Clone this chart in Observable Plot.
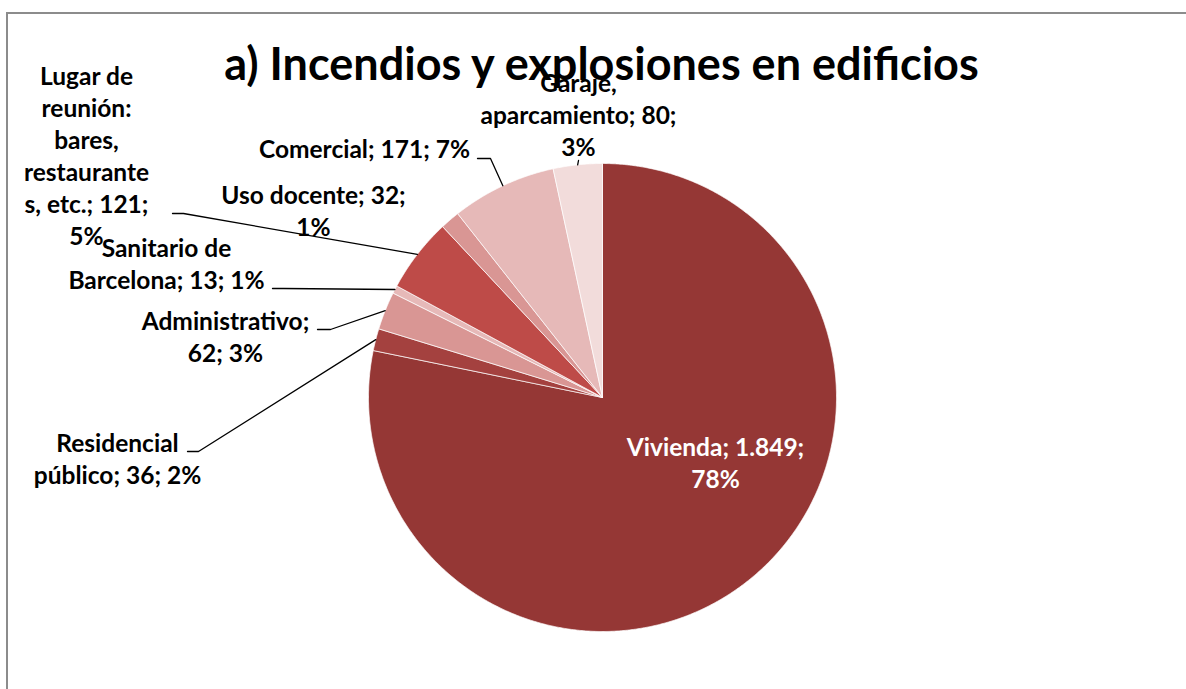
<!DOCTYPE html>
<html>
<head>
<meta charset="utf-8">
<script src="https://cdn.jsdelivr.net/npm/d3@7"></script>
<script src="https://cdn.jsdelivr.net/npm/@observablehq/plot@0.6"></script>
<style>
  body { margin: 0; background: #fff; }
  #wrap { position: relative; width: 1186px; height: 689px; overflow: hidden; }
  #frame { position: absolute; left: 6px; top: 12px; width: 1200px; height: 720px; border: 2px solid #8c8c8c; box-sizing: border-box; }
  #chart { position: absolute; left: 0; top: 0; }
</style>
</head>
<body>
<div id="wrap"><div id="frame"></div><div id="chart"></div></div>
<script>
// ---- data ----
const categories = ["Vivienda", "Residencial público", "Administrativo", "Sanitario de Barcelona",
  "Lugar de reunión: bares, restaurantes, etc.", "Uso docente", "Comercial", "Garaje, aparcamiento"];
const values = [1849, 36, 62, 13, 121, 32, 171, 80];
const labelText = [
  "Vivienda; 1.849;\n78%",
  "Residencial\npúblico; 36; 2%",
  "Administrativo;\n62; 3%",
  "Sanitario de\nBarcelona; 13; 1%",
  "Lugar de\nreunión:\nbares,\nrestaurante\ns, etc.; 121;\n5%",
  "Uso docente; 32;\n1%",
  "Comercial; 171; 7%",
  "Garaje,\naparcamiento; 80;\n3%"
];
const colors = ["#953735", "#a4413f", "#d99694", "#e6b9b8", "#be4b48", "#d99694", "#e6b9b8", "#f2dcdb"];
const titleText = "a) Incendios y explosiones en edificios";

// ---- layout (pixels) ----
const W = 1186, H = 689, cx = 602, cy = 397, r = 234;
const ux = px => (px - cx) / r;
const uy = py => (cy - py) / r;
// label anchor: center x, baseline of last line
const labelPos = [
  [715, 487], [117, 483], [225, 361], [166, 288], [86, 244], [313, 235], [364, 157], [578, 155]
];
// leader start and elbow (null = none)
const leaderPos = [
  null, [[187, 451], [198, 451]], [[317, 329], [330, 329]], [[272, 288], [283, 288]],
  [[172, 213], [183, 213]], null, [[477, 158], [490, 158]], [[578, 160]]
];

// ---- pie geometry from data ----
const total = d3.sum(values);
const slices = [];
let acc = 0;
values.forEach((v, i) => {
  const a0 = acc / total * 2 * Math.PI;
  acc += v;
  const a1 = acc / total * 2 * Math.PI;
  slices.push({name: categories[i], a0, a1, mid: (a0 + a1) / 2});
});
const piePts = [];
slices.forEach(s => {
  piePts.push({name: s.name, x: 0, y: 0});
  const n = Math.max(2, Math.ceil((s.a1 - s.a0) / 0.005));
  for (let k = 0; k <= n; k++) {
    const a = s.a0 + (s.a1 - s.a0) * k / n;
    piePts.push({name: s.name, x: Math.sin(a), y: Math.cos(a)});
  }
  piePts.push({name: s.name, x: 0, y: 0});
});
const leaderPts = [];
slices.forEach((s, i) => {
  const lp = leaderPos[i];
  if (!lp) return;
  lp.forEach(p => leaderPts.push({name: s.name, x: ux(p[0]), y: uy(p[1])}));
  leaderPts.push({name: s.name, x: Math.sin(s.mid), y: Math.cos(s.mid)});
});
const labels = slices.map((s, i) => ({
  name: s.name, text: labelText[i], x: ux(labelPos[i][0]), y: uy(labelPos[i][1]),
  color: i === 0 ? "#ffffff" : "#000000"
}));

const font = "Lato, 'Open Sans', sans-serif";
const chart = Plot.plot({
  width: W, height: H, margin: 0,
  x: {domain: [ux(0), ux(W)], axis: null},
  y: {domain: [uy(H), uy(0)], axis: null},
  color: {domain: categories, range: colors},
  style: {background: "transparent", overflow: "visible"},
  marks: [
    Plot.line(piePts, {x: "x", y: "y", z: "name", fill: "name", stroke: "#ffffff", strokeWidth: 0.7, curve: "linear"}),
    Plot.line(leaderPts, {x: "x", y: "y", z: "name", stroke: "#000", strokeWidth: 1.3}),
    Plot.text([titleText], {x: [ux(601)], y: [uy(79)], text: d => d, fontSize: 45, fontWeight: "bold",
      fontFamily: font, fill: "#000", lineAnchor: "bottom"}),
    Plot.text(labels, {x: "x", y: "y", text: "text", fill: d => d.color, fontSize: 24.5, fontWeight: "bold",
      fontFamily: font, lineHeight: 32 / 24.5, lineAnchor: "bottom", textAnchor: "middle"})
  ]
});
document.getElementById("chart").appendChild(chart);
</script>
</body>
</html>
